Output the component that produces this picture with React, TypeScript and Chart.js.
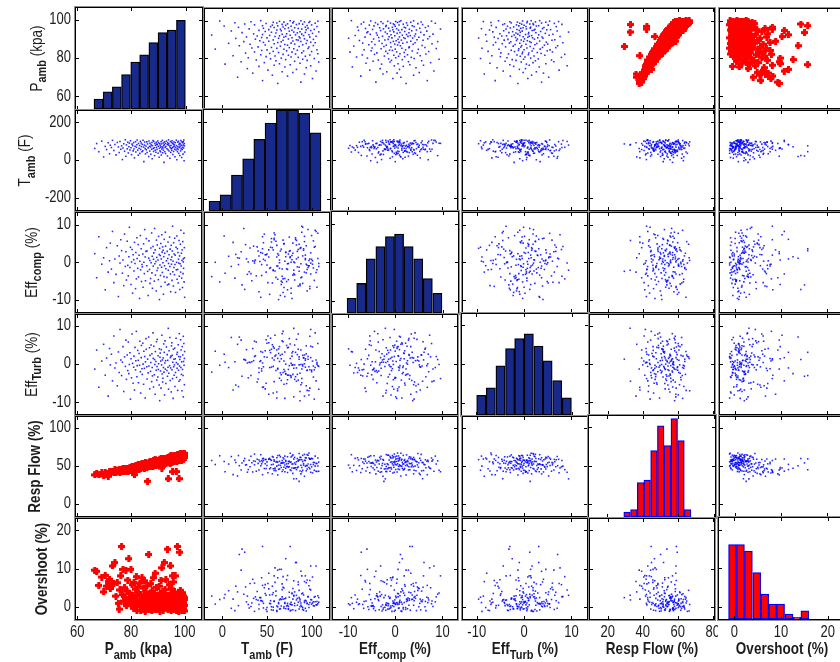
import React, { useEffect, useRef } from "react";
import { Chart, registerables } from "chart.js";

Chart.register(...registerables);

// ---------------- sample data (one entry per run) ----------------
const pamb = [
  66.5, 67.2, 68.0, 69.1,
  69.8, 70.4, 70.9, 71.5, 72.0, 72.3, 72.7,
  73.1, 73.6, 74.0, 74.4, 74.9, 75.3, 75.6, 75.9, 76.2,
  76.5, 76.8, 77.0, 77.3, 77.6, 77.9, 78.1, 78.3, 78.6, 78.8, 79.0, 79.2, 79.4, 79.6,
  79.8, 80.0, 80.2, 80.4, 80.6, 80.8, 81.0, 81.1, 81.3, 81.5, 81.7, 81.8, 82.0, 82.2, 82.3, 82.5, 82.7, 82.8, 83.0,
  83.2, 83.3, 83.5, 83.6, 83.8, 83.9, 84.1, 84.2, 84.4, 84.5, 84.7, 84.8, 85.0, 85.1, 85.3, 85.4, 85.6, 85.7, 85.9, 86.0, 86.2, 86.4,
  86.6, 86.7, 86.9, 87.0, 87.1, 87.3, 87.4, 87.5, 87.7, 87.8, 87.9, 88.0, 88.2, 88.3, 88.4, 88.5, 88.7, 88.8, 88.9, 89.0, 89.1, 89.3, 89.4, 89.5, 89.6, 89.7, 89.8,
  90.0, 90.1, 90.2, 90.3, 90.5, 90.6, 90.7, 90.8, 90.9, 91.0, 91.1, 91.2, 91.3, 91.4, 91.5, 91.6, 91.7, 91.8, 91.9, 92.0, 92.1, 92.2, 92.3, 92.4, 92.5, 92.6, 92.7, 92.8, 92.9, 93.0, 93.2,
  93.4, 93.5, 93.6, 93.7, 93.8, 93.9, 94.0, 94.1, 94.2, 94.4, 94.5, 94.6, 94.7, 94.8, 94.9, 95.0, 95.1, 95.2, 95.3, 95.4, 95.5, 95.6, 95.7, 95.8, 95.9, 96.0, 96.1, 96.2, 96.3, 96.4, 96.5, 96.6,
  96.8, 96.9, 97.0, 97.1, 97.2, 97.3, 97.4, 97.5, 97.6, 97.7, 97.8, 97.9, 98.0, 98.1, 98.2, 98.3, 98.4, 98.5, 98.6, 98.7, 98.8, 98.9, 99.0, 99.1, 99.2, 99.3, 99.4, 99.5, 99.6, 99.7, 99.8, 99.9, 99.9, 100.0, 99.5,
];

const respFlow = [
  38.0, 39.4, 38.3, 40.6,
  36.6, 41.2, 39.4, 36.2, 41.9, 40.0, 42.4,
  42.9, 40.8, 45.0, 41.6, 43.4, 42.1, 44.6, 41.5, 43.8,
  44.8, 42.1, 45.9, 43.2, 46.4, 42.8, 44.5, 47.1, 43.4, 45.8, 42.9, 46.7, 44.2, 47.5,
  44.2, 47.8, 45.1, 48.6, 43.9, 46.5, 49.3, 45.8, 38.4, 48.1, 46.2, 50.0, 44.9, 47.4, 49.8, 46.0, 51.2, 47.9, 45.3,
  47.0, 51.3, 48.6, 46.2, 50.9, 49.0, 52.6, 47.5, 50.3, 53.1, 48.2, 51.7, 46.9, 52.4, 49.6, 54.0, 48.8, 51.5, 47.8, 53.2, 29.5, 50.6,
  50.2, 54.4, 49.1, 52.8, 55.6, 51.0, 48.7, 53.9, 56.2, 50.5, 52.3, 55.0, 49.6, 54.7, 57.1, 51.8, 53.4, 56.5, 50.8, 58.9, 52.5, 55.8, 50.1, 54.2, 57.4, 52.0, 55.3,
  51.6, 55.9, 53.0, 57.3, 54.4, 50.9, 58.2, 55.2, 52.4, 56.8, 54.0, 59.1, 51.5, 57.7, 47.0, 55.6, 53.2, 58.6, 56.0, 52.8, 59.8, 54.6, 57.0, 51.9, 60.3, 55.1, 53.7, 58.1, 56.4, 52.6, 59.2,
  55.0, 59.6, 53.8, 60.7, 57.2, 32.8, 54.9, 61.4, 58.3, 56.0, 62.2, 53.6, 59.0, 57.8, 63.0, 55.5, 60.4, 58.7, 54.4, 61.9, 42.2, 57.4, 62.8, 56.3, 59.9, 64.0, 55.8, 61.1, 58.0, 63.5, 57.0, 60.6,
  58.0, 42.4, 61.7, 55.6, 63.4, 59.2, 64.8, 57.1, 62.3, 60.0, 65.5, 33.0, 56.9, 63.8, 59.7, 61.9, 66.2, 58.4, 62.8, 60.7, 64.4, 57.6, 66.8, 61.3, 59.0, 65.1, 62.6, 58.9, 64.0, 60.3, 63.2, 66.5, 61.0, 64.7, 58.6,
];

const overshoot = [
  9.6, 9.3, 5.6, 7.8,
  3.9, 8.2, 5.4, 6.6, 7.2, 4.8, 6.0,
  10.7, 6.1, 11.6, 2.8, 6.3, 0.9, -0.6, 4.4, 8.1,
  15.8, 3.2, 9.8, 1.5, 5.0, 2.4, 9.6, 0.3, 4.1, 7.0, 1.9, 12.6, 3.6, 0.8,
  2.5, 9.8, 0.6, 5.8, 1.2, 3.0, -0.4, 6.4, 2.0, 0.1, 4.6, 1.6, 7.9, -1.0, 2.9, 0.9, 5.2, 3.4, 1.1,
  0.5, 6.2, 1.8, -0.9, 3.1, 0.2, 7.6, 2.2, -0.2, 1.4, 4.9, 0.7, 6.8, 2.6, -1.2, 1.0, 3.8, 0.0, 5.5, 1.7, 2.4, -0.5,
  13.7, 1.3, 0.4, 3.5, -0.7, 2.1, 6.1, 0.9, 1.5, -1.1, 4.2, 0.6, 2.7, 7.6, -0.3, 1.9, 0.2, 3.3, 1.0, 8.8, -0.8, 2.4, 0.8, 5.1, 1.2, -0.1, 3.0,
  0.3, 2.6, -0.5, 1.1, 5.4, 0.8, 2.0, -1.2, 3.6, 1.6, 0.0, 6.9, 1.3, -0.6, 10.2, 2.3, 0.5, 4.0, 1.8, -0.9, 3.1, 0.7, 2.8, 11.6, -0.2, 1.4, 4.5, 0.1, 2.2, 7.1, 1.0,
  2.9, 0.4, 15.1, 1.7, -0.8, 3.0, 1.2, 0.0, 5.8, 2.5, -0.4, 1.9, 10.7, 0.6, 3.4, -1.0, 1.5, 4.7, 0.2, 2.1, 8.1, -0.3, 1.1, 6.5, 0.9, 2.7, -0.7, 3.9, 1.4, 0.3, 8.1, 2.0,
  1.6, 0.5, -0.9, 2.3, 0.0, 15.8, 1.0, -0.5, 3.2, 0.7, -1.2, 1.8, 2.6, -0.2, 14.3, 0.9, 4.3, -0.7, 1.3, 0.2, 2.0, -1.0, 0.6, 3.7, -0.4, 1.5, 0.1, 2.8, -0.6, 0.8, 1.9, -1.1, 0.4, 2.4, 1.1,
];

const tamb = [
  62, 88, 45, 101, 17, 73, 56, 92, 34, 79,
  67, 105, 51, 83, 28, 94, 70, 41, 99, 58,
  76, 3, 64, 87, 47, 108, 21, 81, 60, 95,
  38, 71, 90, 54, 103, 66, 29, 85, 77, 49,
  93, 59, 12, 74, 98, 43, 68, 82, 107, 53,
  26, 89, 63, 78, 36, 100, 57, 91, 72, 44,
  84, 50, 106, 69, -8, 80, 96, 61, 33, 75,
  55, 97, 40, 86, 65, 19, 102, 73, 48, 90,
  70, 31, 81, 58, 94, 7, 77, 104, 62, 46,
  99, 66, 24, 88, 52, 79, 42, 95, 68, 85,
  57, 83, 102, 37, 74, 92, 15, 63, 87, 50,
  78, 44, 69, 98, 27, 86, 59, 71, 105, 39,
  64, 91, 53, 76, -12, 82, 97, 45, 67, 89,
  35, 72, 101, 60, 84, 22, 93, 55, 80, 108,
  87, 48, 75, 10, 66, 99, 41, 78, 61, 94,
  52, 103, 65, 89, 30, 70, 85, 46, 96, 74,
  81, 58, 18, 93, 68, 54, 106, 77, 2, 62,
  45, 95, 71, 56, 100, 36, 83, 67, 90, 25,
  73, 86, 49, 104, 61, 79, 14, 97, 57, 69,
  92, 32, 80, 64, 107, -3, 76, 88, 43, 98,
];

const effComp = [
  2.3, -4.1, 6.8, -0.5, 1.2, -7.3, 3.9, -2.6, 0.4, 5.1,
  -1.8, 8.2, -5.4, 0.9, -3.2, 4.4, -9.1, 1.7, -0.2, 6.0,
  3.1, -2.9, 0.6, -6.2, 7.5, -1.1, 2.8, -4.7, 5.6, -0.8,
  -3.6, 1.5, 9.3, -1.4, 4.0, -5.9, 0.1, 3.4, -8.2, 2.0,
  0.7, -2.3, 5.3, -0.3, -7.0, 2.6, -4.4, 6.5, 1.0, -1.6,
  4.7, -3.9, 1.9, -9.6, 0.3, 7.1, -2.0, 3.6, -5.1, -0.6,
  -1.2, 2.2, -6.6, 4.9, 0.0, -3.0, 8.7, 1.4, -4.9, 2.9,
  6.3, -0.9, 3.0, -2.4, -8.8, 1.1, 5.7, -1.9, 0.5, -5.6,
  -4.3, 3.8, -0.1, 7.8, -2.8, 1.6, -6.9, 4.2, -1.0, 0.8,
  2.5, -5.0, 9.0, -0.4, 3.3, -3.4, 0.2, -7.6, 5.9, 1.3,
  -2.2, 4.6, -1.5, 0.6, -4.6, 6.9, 2.1, -9.9, 3.7, -0.7,
  1.8, -3.5, 5.0, -6.4, 0.9, -1.3, 7.3, 2.7, -2.7, 4.1,
  -0.1, 3.2, -8.5, 1.5, -3.8, 6.1, -0.9, 2.4, -5.3, 8.0,
  4.3, -1.7, 0.4, -4.0, 2.9, -6.0, 1.0, 5.4, -2.1, -0.3,
  -5.8, 2.0, 6.7, -1.1, 3.5, -3.1, -7.8, 0.7, 4.5, -0.5,
  1.4, -4.8, 3.0, 9.6, -2.5, 0.3, -6.3, 5.2, -1.4, 2.2,
  -3.3, 6.4, -0.6, 1.9, -8.0, 4.0, -2.0, 0.0, 7.0, -4.5,
  3.6, -1.9, 2.6, -5.5, 0.8, -0.2, 5.8, -3.7, 1.7, -7.2,
  -0.4, 4.8, -2.6, 8.5, -1.0, 2.4, -4.2, 0.5, 3.3, -6.7,
  5.5, -3.0, 0.1, -1.6, 7.7, -5.2, 1.2, 3.9, -9.3, 0.9,
];

const effTurb = [
  -1.3, 3.7, -6.1, 0.8, 5.2, -2.9, 1.6, -8.4, 4.1, -0.2,
  2.6, -4.4, 7.4, -1.0, 0.3, -5.7, 3.2, -2.2, 9.1, 1.1,
  -3.0, 0.5, 4.6, -7.2, 1.9, -0.6, 6.3, -4.0, 2.4, -1.7,
  5.8, -2.5, -0.1, 3.0, -9.2, 1.4, -3.6, 7.9, 0.2, -5.0,
  -0.8, 2.1, -6.8, 4.4, -1.5, 0.9, 8.6, -3.3, -0.4, 3.6,
  1.0, -4.9, 2.8, -0.3, 6.0, -2.0, -7.6, 1.7, 4.9, -1.2,
  -2.7, 5.5, 0.0, -5.3, 3.4, -1.1, 2.0, -8.9, 0.6, 6.7,
  3.9, -0.7, -3.9, 1.3, -2.3, 7.1, -0.5, 4.3, -6.5, 2.3,
  -1.9, 0.4, 5.0, -4.6, 2.7, -0.9, -3.1, 8.2, 1.5, -6.0,
  4.7, -2.8, 1.2, -0.1, -7.9, 3.3, 0.7, -1.6, 5.9, -4.2,
  -0.6, 6.5, -3.4, 2.2, -1.4, 0.1, -5.5, 4.0, -9.6, 1.8,
  2.9, -1.8, 0.8, -6.3, 3.8, -0.2, 7.6, -2.6, 1.1, -4.7,
  -3.7, 1.6, -0.9, 5.3, -2.1, 3.1, -8.1, 0.3, 6.1, -1.3,
  0.9, -5.1, 4.5, -1.7, 2.5, -3.2, 1.0, -0.8, 9.4, -6.6,
  -2.4, 3.5, -0.4, 7.0, -4.3, 1.7, -1.0, 2.1, -7.3, 4.8,
  5.6, -1.5, 2.3, -3.8, 0.5, -9.0, 3.9, -0.7, 1.3, -2.9,
  -0.2, 4.2, -5.9, 1.4, -2.2, 6.8, 0.4, -3.5, 2.6, -1.1,
  3.1, -6.9, 0.0, 5.1, -1.6, 2.0, -4.5, 8.0, -0.5, 1.2,
  -4.1, 1.9, 6.4, -0.9, 3.7, -2.7, 0.6, -7.0, 4.6, -1.4,
  2.4, -3.0, -8.6, 0.7, 5.4, -0.3, 1.5, -5.4, 3.3, 7.3,
];

// ---------------- histogram bins (centers) and counts ----------------
const pambBins = [67.8, 71.2, 74.6, 78.0, 81.4, 84.7, 88.1, 91.5, 94.9, 98.3];
const pambCounts = [4, 7, 9, 14, 19, 22, 27, 31, 32, 36];
const tambBins = [-7.8, 4.5, 16.9, 29.3, 41.6, 54.0, 66.4, 78.7, 91.1, 103.4];
const tambCounts = [3, 5, 11, 16, 22, 27, 31, 31, 30, 24];
const effCompBins = [-9.1, -7.1, -5.1, -3.1, -1.1, 0.8, 2.8, 4.8, 6.8, 8.8];
const effCompCounts = [6, 12, 22, 27, 31, 32, 27, 22, 14, 8];
const effTurbBins = [-8.9, -6.9, -4.9, -2.9, -1.0, 1.0, 3.0, 4.9, 6.9, 8.9];
const effTurbCounts = [8, 11, 20, 27, 31, 33, 28, 22, 14, 7];
const respBins = [31.3, 35.1, 38.9, 42.6, 46.4, 50.2, 54.0, 57.8, 61.6, 65.3];
const respCounts = [2, 3, 14, 15, 27, 37, 29, 40, 31, 3];
const overBins = [-0.4, 1.3, 3.0, 4.8, 6.5, 8.2, 9.9, 11.7, 13.4, 15.1];
const overCounts = [45, 45, 41, 28, 15, 9, 9, 3, 1, 5];

// ---------------- axes ----------------
const xTickValues = [[60, 80, 100], [0, 50, 100], [-10, 0, 10], [-10, 0, 10], [20, 40, 60, 80], [0, 10, 20]];
const yTickValues = [[60, 80, 100], [-200, 0, 200], [-10, 0, 10], [-10, 0, 10], [0, 50, 100], [0, 10, 20]];
const xRanges = [[59.5, 106.1], [-19.5, 119.5], [-13.2, 13.1], [-12.9, 13.3], [9.9, 80.7], [-3.3, 23.7]];
const yRanges = [[53.4, 106.2], [-265, 261], [-13.2, 13.1], [-13.1, 12.9], [-16.2, 114.4], [-3.2, 23]];
const histMax = [41, 31, 41, 41, 41, 61];

const axisTitles: [string, boolean][][] = [
  [["P", false], ["amb", true], [" (kpa)", false]],
  [["T", false], ["amb", true], [" (F)", false]],
  [["Eff", false], ["comp", true], [" (%)", false]],
  [["Eff", false], ["Turb", true], [" (%)", false]],
  [["Resp Flow (%)", false]],
  [["Overshoot (%)", false]],
];

// ---------------- layout / style ----------------
const PW = 126;
const PH = 101;
const M = 3;
const COL_X = [76, 204, 332, 462, 589, 719];
const ROW_Y = [8, 110, 212, 314, 416, 518];
const Y_TITLE_X = [41.5, 30, 36.5, 36.5, 39.5, 46.5];
const FONT = '"Liberation Sans", Arial, Helvetica, sans-serif';
const SY = 1.22;
const NAVY = "#18298c";

const VARS = [pamb, tamb, effComp, effTurb, respFlow, overshoot];
const HISTS = [
  [pambBins, pambCounts],
  [tambBins, tambCounts],
  [effCompBins, effCompCounts],
  [effTurbBins, effTurbCounts],
  [respBins, respCounts],
  [overBins, overCounts],
];
const RED_PAIRS = new Set(["0-4", "4-0", "0-5", "5-0"]);

let redMarker: HTMLCanvasElement | null = null;
function getRedMarker() {
  if (redMarker) return redMarker;
  const c = document.createElement("canvas");
  c.width = 7;
  c.height = 7;
  const g = c.getContext("2d")!;
  g.fillStyle = "#ff0000";
  g.beginPath();
  g.moveTo(3.5, 0);
  g.lineTo(7, 3.5);
  g.lineTo(3.5, 7);
  g.lineTo(0, 3.5);
  g.closePath();
  g.fill();
  g.fillRect(2, 0, 3, 7);
  g.fillRect(0, 2, 7, 3);
  redMarker = c;
  return c;
}

function drawLabel(ctx: CanvasRenderingContext2D, s: string, x: number, y: number, align: CanvasTextAlign) {
  ctx.save();
  ctx.translate(x, y);
  ctx.scale(1, SY);
  ctx.font = `13px ${FONT}`;
  ctx.textAlign = align;
  ctx.textBaseline = "middle";
  ctx.fillText(s, 0, 0);
  ctx.restore();
}

function drawTitle(
  ctx: CanvasRenderingContext2D,
  parts: [string, boolean][],
  x: number,
  y: number,
  rotate: boolean,
  boldMain: boolean
) {
  ctx.save();
  ctx.translate(x, y);
  if (rotate) ctx.rotate(-Math.PI / 2);
  ctx.scale(1, SY);
  const size = 13.5;
  const fonts = parts.map(([, sub]) => `${sub || boldMain ? "bold " : ""}${sub ? 11 : size}px ${FONT}`);
  let total = 0;
  const widths = parts.map(([t], i) => {
    ctx.font = fonts[i];
    const w = ctx.measureText(t).width;
    total += w;
    return w;
  });
  let cx = -total / 2;
  ctx.textAlign = "left";
  ctx.textBaseline = "alphabetic";
  parts.forEach(([t, sub], i) => {
    ctx.font = fonts[i];
    ctx.fillText(t, cx, sub ? 4 : 0);
    cx += widths[i];
  });
  ctx.restore();
}

function makePlugin(r: number, c: number, offX: number, offY: number) {
  return {
    id: `panel_${r}_${c}`,
    beforeDatasetsDraw(chart: any) {
      const { ctx, chartArea: a } = chart;
      ctx.save();
      ctx.fillStyle = "#ffffff";
      ctx.fillRect(a.left, a.top, a.right - a.left, a.bottom - a.top);
      ctx.restore();
    },
    afterDraw(chart: any) {
      const ctx: CanvasRenderingContext2D = chart.ctx;
      const a = chart.chartArea;
      const xs = chart.scales.x;
      const ys = chart.scales.y;
      ctx.save();
      ctx.lineWidth = 1;
      ctx.strokeStyle = "#909090";
      ctx.strokeRect(a.left - 1.5, a.top - 1.5, a.right - a.left + 3, a.bottom - a.top + 3);
      ctx.strokeStyle = "#000000";
      ctx.strokeRect(a.left - 0.5, a.top - 0.5, a.right - a.left + 1, a.bottom - a.top + 1);

      const TL = 3;
      ctx.beginPath();
      const [x0, x1] = xRanges[c];
      const [y0, y1] = yRanges[r];
      for (const v of xTickValues[c]) {
        if (v < x0 || v > x1) continue;
        const p = Math.round(xs.getPixelForValue(v)) + 0.5;
        ctx.moveTo(p, a.top);
        ctx.lineTo(p, a.top + TL);
        ctx.moveTo(p, a.bottom);
        ctx.lineTo(p, a.bottom - TL);
      }
      for (const v of yTickValues[r]) {
        if (v < y0 || v > y1) continue;
        const p = Math.round(ys.getPixelForValue(v)) + 0.5;
        ctx.moveTo(a.left, p);
        ctx.lineTo(a.left + TL, p);
        ctx.moveTo(a.right, p);
        ctx.lineTo(a.right - TL, p);
      }
      ctx.stroke();

      ctx.fillStyle = "#1c1c1c";
      if (c === 0) {
        for (const v of yTickValues[r]) {
          if (v < y0 || v > y1) continue;
          drawLabel(ctx, String(v), 71 - offX, ys.getPixelForValue(v), "right");
        }
        const cy = (a.top + a.bottom) / 2;
        drawTitle(ctx, axisTitles[r], Y_TITLE_X[r] - offX, cy, true, r >= 4);
      }
      if (r === 5) {
        for (const v of xTickValues[c]) {
          if (v < x0 || v > x1) continue;
          drawLabel(ctx, String(v), xs.getPixelForValue(v), 633 - offY, "center");
        }
        const cx = (a.left + a.right) / 2;
        drawTitle(ctx, axisTitles[c], cx, 654 - offY, false, true);
      }
      ctx.restore();
    },
  };
}

function Panel({ r, c }: { r: number; c: number }) {
  const ref = useRef<HTMLCanvasElement>(null);
  const px = COL_X[c];
  const py = ROW_Y[r];
  const left = c === 0 ? 0 : px - M;
  const top = py - M;
  const right = px + PW + M;
  const bottom = r === 5 ? 662 : py + PH + M;
  const w = right - left;
  const h = bottom - top;

  useEffect(() => {
    const canvas = ref.current;
    if (!canvas) return;
    const isDiag = r === c;
    const scales: any = {
      x: { type: "linear", display: false, min: xRanges[c][0], max: xRanges[c][1], offset: false },
      y: { type: "linear", display: false, min: yRanges[r][0], max: yRanges[r][1] },
    };
    let config: any;
    if (isDiag) {
      const [bins, counts] = HISTS[c];
      const red = c >= 4;
      scales.yh = { type: "linear", display: false, min: 0, max: histMax[c] };
      config = {
        type: "bar",
        data: {
          datasets: [
            {
              data: bins.map((b, i) => ({ x: b, y: counts[i] })),
              backgroundColor: red ? "#ff0000" : NAVY,
              borderColor: red ? "#0000ff" : "#000000",
              borderWidth: 1.3,
              borderSkipped: false,
              barPercentage: 1,
              categoryPercentage: 1,
              xAxisID: "x",
              yAxisID: "yh",
            },
          ],
        },
      };
    } else {
      const red = RED_PAIRS.has(`${r}-${c}`);
      const xv = VARS[c];
      const yv = VARS[r];
      config = {
        type: "scatter",
        data: {
          datasets: [
            {
              data: xv.map((v, i) => ({ x: v, y: yv[i] })),
              pointStyle: red ? getRedMarker() : "rect",
              pointRadius: red ? 3.5 : 1.1,
              backgroundColor: red ? "#ff0000" : "rgba(0,0,255,0.85)",
              borderWidth: 0,
              showLine: false,
            },
          ],
        },
      };
    }
    config.options = {
      responsive: false,
      animation: false,
      devicePixelRatio: 1,
      events: [],
      layout: {
        padding: { left: px - left, top: M, right: M, bottom: bottom - (py + PH) },
      },
      plugins: { legend: { display: false }, tooltip: { enabled: false }, title: { display: false } },
      scales,
    };
    config.plugins = [makePlugin(r, c, left, top)];
    const chart = new Chart(canvas, config);
    return () => chart.destroy();
  }, [r, c]);

  return (
    <canvas
      ref={ref}
      width={w}
      height={h}
      style={{ position: "absolute", left, top, width: w, height: h }}
    />
  );
}

export default function App() {
  const panels = [];
  for (let r = 0; r < 6; r++) {
    for (let c = 0; c < 6; c++) {
      panels.push(<Panel key={`${r}-${c}`} r={r} c={c} />);
    }
  }
  return (
    <div
      style={{
        position: "absolute",
        left: 0,
        top: 0,
        width: 840,
        height: 662,
        overflow: "hidden",
        background: "#ffffff",
      }}
    >
      {panels}
    </div>
  );
}
